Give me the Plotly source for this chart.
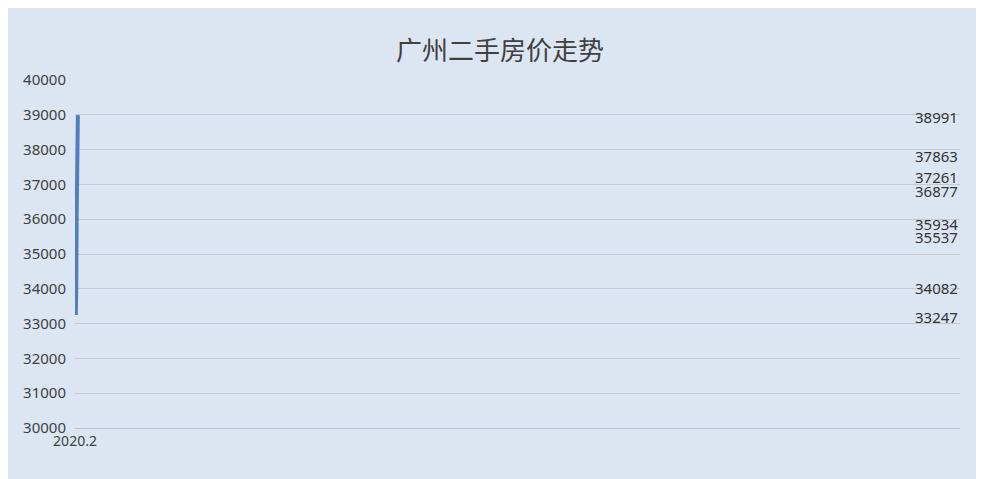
import plotly.graph_objects as go

months = ['2020.2', '2020.3', '2020.4', '2020.5', '2020.6', '2020.07', '2020.08', '2020.09']
prices = [36877, 35537, 33247, 34082, 35934, 37863, 37261, 38991]
y_ticks = list(range(30000, 40001, 1000))

fig = go.Figure()
fig.add_trace(go.Scatter(
    x=months, y=prices, mode='lines',
    line=dict(color='#4f7fbe', width=4),
))
for m, p in zip(months, prices):
    fig.add_annotation(x=m, y=p, text=str(p), showarrow=False,
                       xanchor='left', yanchor='middle', xshift=18, yshift=-2,
                       font=dict(family='Noto Sans', size=15, color='#333333'))
fig.update_layout(
    width=984, height=479,
    paper_bgcolor='#dce6f2', plot_bgcolor='#dce6f2',
    margin=dict(l=67, r=32, t=72, b=59),
    title=dict(text='广州二手房价走势', x=0.5, xanchor='center', y=0.93,
               font=dict(family='Noto Sans CJK SC', size=26, color='#404040')),
    showlegend=False,
    xaxis=dict(showgrid=False, showline=True, linecolor='#bfbfbf',
               tickfont=dict(family='Noto Sans', size=14, color='#404040'), ticks=''),
    yaxis=dict(range=[30000, 40000], tickvals=y_ticks, ticktext=[str(t) for t in y_ticks],
               gridcolor='#c9c9c9', zeroline=False, ticks='', ticklabelstandoff=8,
               tickfont=dict(family='Noto Sans', size=15, color='#404040')),
)
fig.write_html("out.html")
